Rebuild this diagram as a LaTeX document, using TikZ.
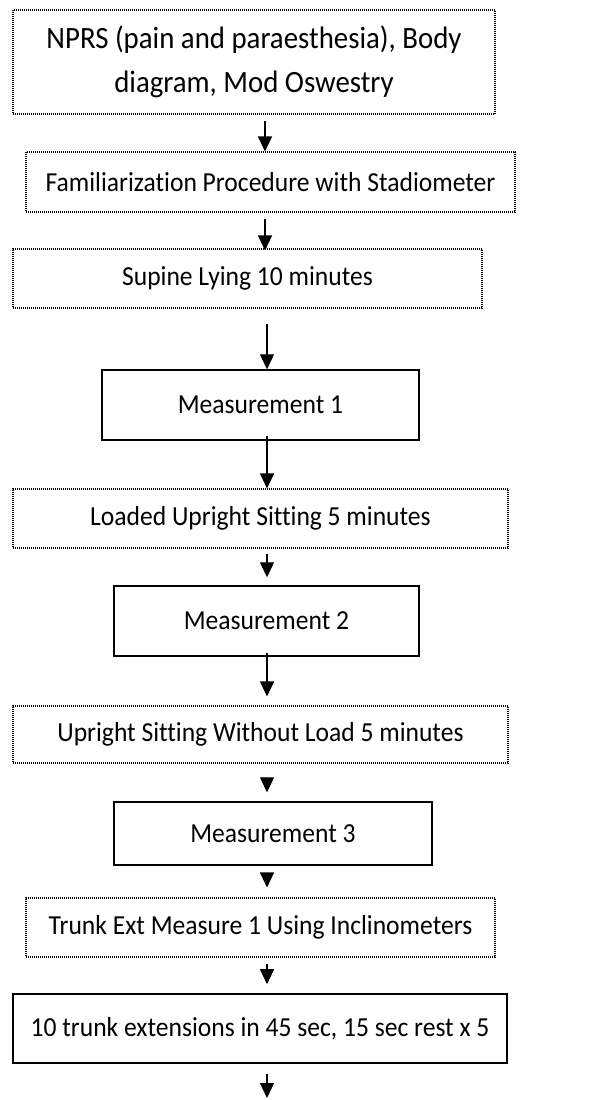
\documentclass[tikz,border=0pt]{standalone}
\usepackage{fontspec}
\setmainfont{Carlito}[FakeStretch=0.93,Ligatures=NoCommon]
\usetikzlibrary{arrows.meta}
\begin{document}
\begin{tikzpicture}[x=1pt,y=-1pt,
  box/.style={inner sep=0pt, align=center, font=\fontsize{27.5}{33}\selectfont},
  dotbox/.style={box, draw, dash pattern=on 1pt off 1pt, line width=1.1pt},
  solbox/.style={box, draw, line width=1.4pt},
  arr/.style={line width=1.1pt, -{Triangle[width=14pt,length=15pt]}}]
\useasboundingbox (0,0) rectangle (605,1100);
\fill[white] (0,0) rectangle (605,1100);
\node[dotbox, minimum width=482pt, minimum height=104pt, font=\fontsize{31}{44}\selectfont] (b1) at (254,62) {NPRS (pain and paraesthesia), Body\\diagram, Mod Oswestry};
\node[dotbox, minimum width=489pt, minimum height=60pt] (b2) at (270.5,182) {Familiarization Procedure with Stadiometer};
\node[dotbox, minimum width=469pt, minimum height=59pt] (b3) at (247.5,278.5) {Supine Lying 10 minutes};
\node[solbox, minimum width=317pt, minimum height=70pt] (b4) at (260.5,405) {Measurement 1};
\node[dotbox, minimum width=495pt, minimum height=59pt] (b5) at (260.5,518.5) {Loaded Upright Sitting 5 minutes};
\node[solbox, minimum width=305pt, minimum height=70pt] (b6) at (266.5,621) {Measurement 2};
\node[dotbox, minimum width=495pt, minimum height=57pt] (b7) at (260.5,734.5) {Upright Sitting Without Load 5 minutes};
\node[solbox, minimum width=318pt, minimum height=63pt] (b8) at (273,833.5) {Measurement 3};
\node[dotbox, minimum width=469pt, minimum height=59pt] (b9) at (260.5,927.5) {Trunk Ext Measure 1 Using Inclinometers};
\node[solbox, line width=1.6pt, minimum width=494pt, minimum height=69pt] (b10) at (260,1028.5) {10 trunk extensions in 45 sec, 15 sec rest x 5};
\coordinate (xa) at (265,0);
\coordinate (xb) at (267,0);
\coordinate (end) at (267,1098);
\draw[arr, shorten <=6pt] (xa |- b1.south) -- (xa |- b2.north);
\draw[arr, shorten <=6pt, shorten >=-2pt] (xa |- b2.south) -- (xa |- b3.north);
\draw[arr, shorten <=15pt] (xb |- b3.south) -- (xb |- b4.north);
\draw[arr, shorten <=-5pt] (xb |- b4.south) -- (xb |- b5.north);
\draw[arr, shorten <=5pt, shorten >=8pt] (xb |- b5.south) -- (xb |- b6.north);
\draw[arr, shorten <=-4pt, shorten >=9pt] (xb |- b6.south) -- (xb |- b7.north);
\draw[arr, shorten <=14pt, shorten >=9pt] (xb |- b7.south) -- (xb |- b8.north);
\draw[arr, shorten <=8pt, shorten >=10pt] (xb |- b8.south) -- (xb |- b9.north);
\draw[arr, shorten <=6pt, shorten >=9pt] (xb |- b9.south) -- (xb |- b10.north);
\draw[arr, shorten <=10pt] (xb |- b10.south) -- (end);
\end{tikzpicture}
\end{document}
